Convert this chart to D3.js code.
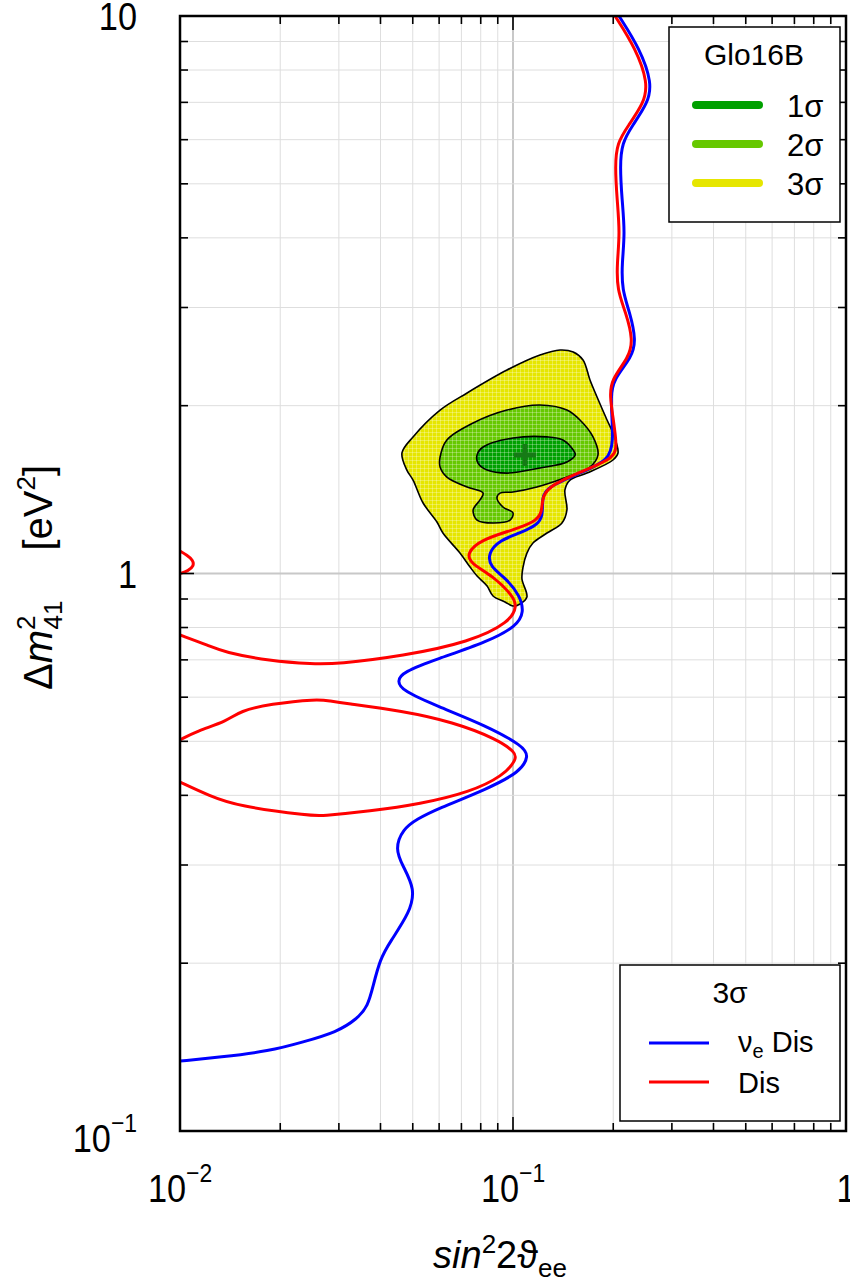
<!DOCTYPE html>
<html><head><meta charset="utf-8">
<script src="https://cdn.jsdelivr.net/npm/d3@7"></script>
<style>body{margin:0;background:#fff}svg{display:block}text{font-family:"Liberation Sans",Arial,sans-serif;fill:#000}</style>
</head><body>
<svg id="chart" width="850" height="1282"></svg>
<script>
// ---------- data ----------
const xDomain = [0.01, 1];
const yDomain = [0.1, 10];
const xMajorTicks = [0.01, 0.1, 1];
const xTickBase = ["10", "10", "1"];
const xTickExp = ["−2", "−1", ""];
const yMajorTicks = [0.1, 1, 10];
const yTickBase = ["10", "1", "10"];
const yTickExp = ["−1", "", ""];

// Glo16B allowed regions [sin^2 2theta_ee, dm^2_41]
const sigma3 = [[0.0464,1.645],[0.0501,1.758],[0.0604,1.964],[0.0728,2.108],[0.0959,2.317],[0.1205,2.465],[0.1384,2.517],[0.1517,2.496],[0.1623,2.415],[0.1703,2.224],[0.1788,2.073],[0.1916,1.885],[0.1996,1.787],[0.2067,1.645],[0.1996,1.598],[0.1668,1.514],[0.1483,1.471],[0.1432,1.412],[0.1452,1.300],[0.1403,1.232],[0.1265,1.182],[0.1148,1.134],[0.1101,1.088],[0.1072,1.027],[0.1064,0.9775],[0.1101,0.9076],[0.1050,0.8818],[0.1000,0.8744],[0.0946,0.8889],[0.0871,0.9113],[0.0836,0.9497],[0.0780,0.9897],[0.0743,1.027],[0.0693,1.088],[0.0616,1.182],[0.0591,1.237],[0.0537,1.338],[0.0501,1.471],[0.0480,1.533]];
const sigma2 = [[0.0604,1.618],[0.0633,1.736],[0.0759,1.862],[0.0959,1.964],[0.1205,2.005],[0.1452,1.964],[0.1589,1.885],[0.1739,1.758],[0.1800,1.632],[0.1703,1.552],[0.1452,1.489],[0.1180,1.429],[0.1000,1.400],[0.0914,1.394],[0.0895,1.366],[0.0933,1.316],[0.1000,1.284],[0.0980,1.247],[0.0871,1.232],[0.0780,1.247],[0.0759,1.300],[0.0796,1.355],[0.0813,1.394],[0.0728,1.429],[0.0633,1.489],[0.0604,1.552]];
const sigma1 = [[0.0780,1.632],[0.0813,1.686],[0.1000,1.750],[0.1265,1.758],[0.1412,1.736],[0.1517,1.665],[0.1538,1.632],[0.1452,1.585],[0.1205,1.546],[0.0959,1.514],[0.0836,1.533],[0.0785,1.578]];
const bestFit = [0.1086, 1.632];

// 3 sigma exclusion curves
const nueDis = [[0.2081,10],[0.2406,8.727],[0.2615,7.583],[0.2543,6.982],[0.2278,6.350],[0.2124,5.918],[0.2095,5.382],[0.2124,4.696],[0.2170,4.081],[0.2124,3.606],[0.2124,3.226],[0.2246,2.933],[0.2341,2.624],[0.2278,2.445],[0.1996,2.224],[0.1969,2.073],[0.1982,1.908],[0.1996,1.736],[0.1956,1.598],[0.1589,1.514],[0.1265,1.429],[0.1222,1.371],[0.1230,1.263],[0.1180,1.222],[0.1050,1.182],[0.0914,1.148],[0.0841,1.088],[0.0853,1.027],[0.0959,0.9775],[0.1050,0.9113],[0.1079,0.853],[0.1028,0.805],[0.0836,0.7536],[0.0591,0.7024],[0.0467,0.6658],[0.0448,0.6416],[0.0467,0.6155],[0.0591,0.5785],[0.0836,0.5326],[0.1072,0.4904],[0.1117,0.4706],[0.1050,0.4404],[0.0836,0.4106],[0.0591,0.3780],[0.0515,0.3627],[0.0467,0.3480],[0.0442,0.3206],[0.0467,0.2988],[0.0508,0.2716],[0.0491,0.2470],[0.0427,0.2183],[0.0399,0.2035],[0.0380,0.1820],[0.0367,0.1676],[0.0340,0.1588],[0.0296,0.1505],[0.0234,0.1444],[0.0186,0.1391],[0.0132,0.1357],[0.0100,0.1335]];
const disMain = [[0.2025,10],[0.2341,8.727],[0.2543,7.583],[0.2474,6.982],[0.2215,6.350],[0.2053,5.918],[0.2025,5.382],[0.2053,4.696],[0.2095,4.081],[0.2053,3.606],[0.2053,3.226],[0.2185,2.933],[0.2293,2.624],[0.2231,2.445],[0.1969,2.224],[0.1956,2.073],[0.1996,1.908],[0.2039,1.736],[0.2039,1.665],[0.1982,1.605],[0.1589,1.520],[0.1265,1.429],[0.1222,1.355],[0.1222,1.284],[0.1164,1.237],[0.1000,1.197],[0.0796,1.148],[0.0728,1.088],[0.0743,1.044],[0.0871,0.9897],[0.1000,0.9113],[0.1028,0.8744],[0.0980,0.8184],[0.0743,0.7536],[0.0467,0.7113],[0.0296,0.6882],[0.0251,0.6882],[0.0186,0.6966],[0.0135,0.7233],[0.0123,0.7412],[0.0100,0.7757]];
const disLoop = [[0.0100,0.503],[0.01125,0.5217],[0.01384,0.5437],[0.01514,0.5667],[0.01864,0.5833],[0.02579,0.5955],[0.02822,0.5906],[0.03087,0.5857],[0.0467,0.5667],[0.0660,0.5415],[0.0895,0.5048],[0.1014,0.4784],[0.1028,0.4648],[0.0933,0.4332],[0.0743,0.4056],[0.0526,0.3859],[0.0372,0.3749],[0.0263,0.3673],[0.0251,0.3673],[0.01483,0.3827],[0.0123,0.3989],[0.0100,0.4226]];
const disTop = [[0.0100,1.097],[0.01049,1.079],[0.01094,1.057],[0.01101,1.031],[0.01057,1.010],[0.0100,1.0]];

const legend1Title = "Glo16B";
const legend1Labels = ["1σ", "2σ", "3σ"];
const sigmaColors = ["#00a000", "#66c800", "#e6e600"];
const legend2Title = "3σ";

// ---------- drawing ----------
const svg = d3.select("#chart");
const L = 180, R = 846, T = 16, B = 1131;
const x = d3.scaleLog().domain(xDomain).range([L, R]);
const y = d3.scaleLog().domain(yDomain).range([B, T]);

const defs = svg.append("defs");
defs.append("clipPath").attr("id", "plotclip").append("rect")
  .attr("x", L).attr("y", T).attr("width", R - L).attr("height", B - T);
const pat = defs.append("pattern").attr("id", "mesh").attr("patternUnits", "userSpaceOnUse")
  .attr("width", 4).attr("height", 4);
pat.append("path").attr("d", "M0 0.5H4M0.5 0V4").attr("stroke", "#fff").attr("stroke-width", 0.8).attr("stroke-opacity", 0.35).attr("fill", "none");

const xt = x.ticks().filter(v => v > xDomain[0] * 1.0001 && v < xDomain[1] * 0.9999);
const yt = y.ticks().filter(v => v > yDomain[0] * 1.0001 && v < yDomain[1] * 0.9999);
const isMajor = v => Math.abs(Math.log10(v) - Math.round(Math.log10(v))) < 1e-6;

const grid = svg.append("g");
xt.forEach(v => grid.append("line").attr("x1", x(v)).attr("x2", x(v)).attr("y1", T).attr("y2", B)
  .attr("stroke", isMajor(v) ? "#c8c8c8" : "#dedede").attr("stroke-width", isMajor(v) ? 2 : 1));
yt.forEach(v => grid.append("line").attr("y1", y(v)).attr("y2", y(v)).attr("x1", L).attr("x2", R)
  .attr("stroke", isMajor(v) ? "#c8c8c8" : "#dedede").attr("stroke-width", isMajor(v) ? 2 : 1));

const plot = svg.append("g").attr("clip-path", "url(#plotclip)");
const closed = d3.line().x(d => x(d[0])).y(d => y(d[1])).curve(d3.curveCatmullRomClosed.alpha(0.5));
const open = d3.line().x(d => x(d[0])).y(d => y(d[1])).curve(d3.curveBasis);

[[sigma3, 2], [sigma2, 1], [sigma1, 0]].forEach(([d, i]) => {
  plot.append("path").attr("d", closed(d)).attr("fill", sigmaColors[i]);
});
plot.append("path").attr("d", closed(sigma3)).attr("fill", "url(#mesh)");
[sigma3, sigma2, sigma1].forEach(d => {
  plot.append("path").attr("d", closed(d)).attr("fill", "none").attr("stroke", "#000").attr("stroke-width", 1.6);
});
// best fit
const bx = x(bestFit[0]), by = y(bestFit[1]);
plot.append("path").attr("d", `M${bx - 11},${by}H${bx + 11}M${bx},${by - 11}V${by + 11}`)
  .attr("stroke", "#167a16").attr("stroke-width", 5);

plot.append("path").attr("d", open(nueDis)).attr("fill", "none").attr("stroke", "#0000ff").attr("stroke-width", 3);
[disMain, disLoop, disTop].forEach(d => plot.append("path").attr("d", open(d)).attr("fill", "none").attr("stroke", "#ff0000").attr("stroke-width", 3));

// ticks
const tk = svg.append("g").attr("stroke", "#000").attr("stroke-width", 1.6);
xt.forEach(v => {
  const len = isMajor(v) ? 14 : 8;
  tk.append("line").attr("x1", x(v)).attr("x2", x(v)).attr("y1", B).attr("y2", B - len);
  tk.append("line").attr("x1", x(v)).attr("x2", x(v)).attr("y1", T).attr("y2", T + len);
});
yt.forEach(v => {
  const len = isMajor(v) ? 14 : 8;
  tk.append("line").attr("y1", y(v)).attr("y2", y(v)).attr("x1", L).attr("x2", L + len);
  tk.append("line").attr("y1", y(v)).attr("y2", y(v)).attr("x1", R).attr("x2", R - len);
});
svg.append("rect").attr("x", L).attr("y", T).attr("width", R - L).attr("height", B - T)
  .attr("fill", "none").attr("stroke", "#000").attr("stroke-width", 2.5);

// tick labels
function label(gx, gy, base, exp, anchor) {
  const g = svg.append("g").attr("transform", `translate(${gx},${gy}) scale(0.88,1)`);
  const t = g.append("text").attr("text-anchor", anchor).attr("font-size", 39);
  t.append("tspan").text(base);
  if (exp) t.append("tspan").attr("font-size", 26).attr("dy", -20).text(exp);
}
xMajorTicks.forEach((v, i) => label(x(v), 1202, xTickBase[i], xTickExp[i], "middle"));
yMajorTicks.forEach((v, i) => label(137, y(v) + (yTickExp[i] ? 21 : 14), yTickBase[i], yTickExp[i], "end"));

// axis titles
const xt1 = svg.append("text").attr("x", 500).attr("y", 1268).attr("text-anchor", "middle").attr("font-size", 38);
xt1.append("tspan").attr("font-style", "italic").text("sin");
xt1.append("tspan").attr("font-size", 26).attr("dy", -15).text("2");
xt1.append("tspan").attr("dy", 15).text("2ϑ");
xt1.append("tspan").attr("font-size", 26).attr("dy", 9).text("ee");

const yt1 = svg.append("text").attr("transform", "translate(52,690) rotate(-90)").attr("font-size", 40);
yt1.append("tspan").text("Δ");
yt1.append("tspan").attr("font-style", "italic").text("m");
yt1.append("tspan").attr("font-size", 26).attr("dy", -17).text("2");
yt1.append("tspan").attr("font-size", 26).attr("dx", -14).attr("dy", 27).text("41");
yt1.append("tspan").attr("dy", -10).attr("dx", 50).text("[eV");
yt1.append("tspan").attr("font-size", 26).attr("dy", -17).text("2");
yt1.append("tspan").attr("dy", 17).text("]");

// legend 1
const lg1 = svg.append("g");
lg1.append("rect").attr("x", 669).attr("y", 27).attr("width", 171).attr("height", 195)
  .attr("fill", "#fff").attr("stroke", "#000").attr("stroke-width", 1.5);
lg1.append("text").attr("x", 754).attr("y", 65).attr("text-anchor", "middle").attr("font-size", 30).text(legend1Title);
legend1Labels.forEach((s, i) => {
  const ly = 105 + i * 39;
  lg1.append("line").attr("x1", 696).attr("x2", 759).attr("y1", ly).attr("y2", ly)
    .attr("stroke", sigmaColors[i]).attr("stroke-width", 8).attr("stroke-linecap", "round");
  lg1.append("text").attr("x", 787).attr("y", ly + 12).attr("font-size", 31).text(s);
});

// legend 2
const lg2 = svg.append("g");
lg2.append("rect").attr("x", 620).attr("y", 965).attr("width", 220).attr("height", 156)
  .attr("fill", "#fff").attr("stroke", "#000").attr("stroke-width", 1.5);
lg2.append("text").attr("x", 730).attr("y", 1003).attr("text-anchor", "middle").attr("font-size", 30).text(legend2Title);
lg2.append("line").attr("x1", 649).attr("x2", 709).attr("y1", 1043).attr("y2", 1043).attr("stroke", "#0000ff").attr("stroke-width", 3);
lg2.append("line").attr("x1", 649).attr("x2", 709).attr("y1", 1082).attr("y2", 1082).attr("stroke", "#ff0000").attr("stroke-width", 3);
const l2a = lg2.append("text").attr("x", 738).attr("y", 1052).attr("font-size", 29);
l2a.append("tspan").text("ν");
l2a.append("tspan").attr("font-size", 20).attr("dy", 6).text("e");
l2a.append("tspan").attr("dy", -6).text(" Dis");
lg2.append("text").attr("x", 738).attr("y", 1093).attr("font-size", 29).text("Dis");
</script>
</body></html>
